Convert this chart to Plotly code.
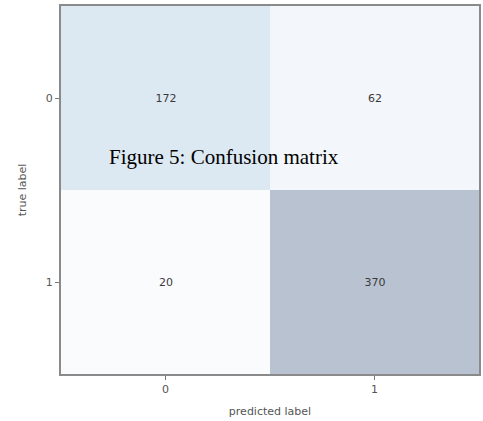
import plotly.graph_objects as go

pred_labels = ["0", "1"]
true_labels = ["0", "1"]
counts = [[172, 62], [20, 370]]

zmin, zmax = 20, 370
def norm(v):
    return (v - zmin) / (zmax - zmin)

colorscale = [
    [0.0, "#fafbfd"],
    [norm(62), "#f3f6fa"],
    [norm(172), "#dce8f2"],
    [1.0, "#b8c2d1"],
]

fig = go.Figure()
fig.add_trace(go.Heatmap(
    z=counts, x=[0, 1], y=[0, 1],
    colorscale=colorscale, zmin=zmin, zmax=zmax, showscale=False,
    text=[[str(v) for v in row] for row in counts],
    texttemplate="%{text}",
    textfont=dict(family="DejaVu Sans", size=11, color="#3a3a3a"),
    hoverinfo="skip",
))

axis_common = dict(
    showgrid=False, zeroline=False, showline=True, linecolor="#8a8a8a",
    linewidth=2, mirror=True, ticks="outside", ticklen=4, tickwidth=1,
    tickcolor="#777", tickfont=dict(family="DejaVu Sans", size=11, color="#555"),
)

fig.update_layout(
    width=483, height=421,
    margin=dict(l=61, r=2, t=6, b=47),
    paper_bgcolor="white", plot_bgcolor="white",
    xaxis=dict(range=[-0.5, 1.5], tickvals=[0, 1], ticktext=pred_labels,
               title=dict(text="predicted label", standoff=12,
                          font=dict(family="DejaVu Sans", size=11, color="#555")),
               **axis_common),
    yaxis=dict(range=[1.5, -0.5], tickvals=[0, 1], ticktext=true_labels,
               title=dict(text="true label", standoff=17,
                          font=dict(family="DejaVu Sans", size=11, color="#555")),
               **axis_common),
    annotations=[dict(
        text="Figure 5: Confusion matrix", xref="paper", yref="paper",
        x=(107 - 61) / 420, y=(374 - 157) / 368, xanchor="left", yanchor="middle",
        showarrow=False,
        font=dict(family="Liberation Serif", size=21, color="black"),
    )],
)

fig.write_html("out.html", config={"displayModeBar": False},
               post_script="document.body.style.margin='0';")
